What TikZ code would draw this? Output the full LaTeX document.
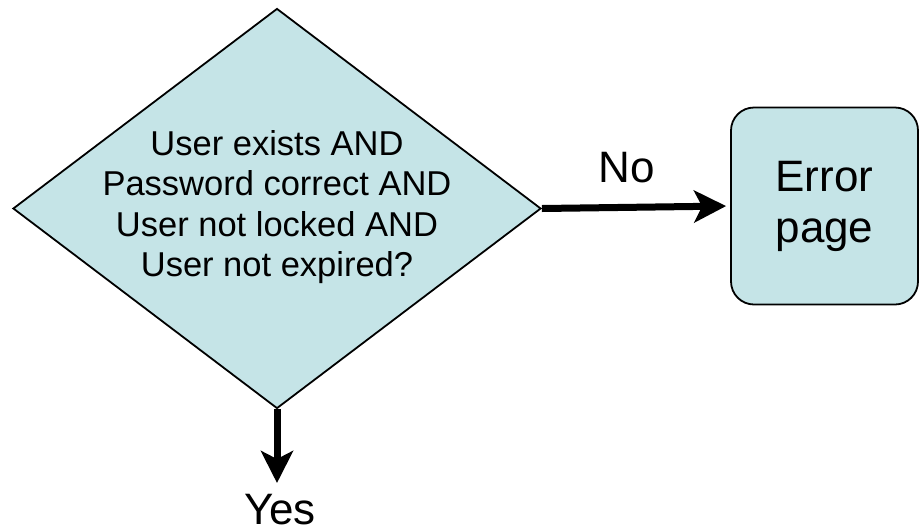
\documentclass[tikz,border=0pt]{standalone}
\usepackage{fontspec}
\setmainfont{Liberation Sans}
\usetikzlibrary{shapes.geometric,arrows.meta}
\definecolor{boxfill}{HTML}{C5E4E7}
\tikzset{
  decision/.style={diamond, draw=black, line width=1.8pt, fill=boxfill, inner sep=0pt, minimum width=528pt, minimum height=400pt},
  endbox/.style={rectangle, rounded corners=23pt, draw=black, line width=1.8pt, fill=boxfill, minimum width=187pt, minimum height=197pt, align=center, font=\fontsize{44}{51}\selectfont},
  flow/.style={line width=7pt, -{Stealth[length=32pt, width=32pt, inset=8pt]}},
  lbl/.style={font=\fontsize{44}{51}\selectfont, inner sep=0pt},
  qtext/.style={align=center, font=\fontsize{34.5}{40.5}\selectfont, inner sep=0pt}
}
\begin{document}
\begin{tikzpicture}[x=1pt,y=-1pt]
\useasboundingbox (0,0) rectangle (920,531);
\node[decision] (q) at (277,208.5) {};
\node[qtext] (qt) at (277,207) {User exists AND\\Password correct AND\\User not locked AND\\User not expired?};
\node[endbox] (err) at (824.5,206) {Error\\page};
\coordinate (yesend) at (277,483);
\draw[flow, shorten >=4pt] (q.east) -- (err.west);
\draw[flow] (q.south) -- (yesend);
\node[lbl] (no) at (627,168) {No};
\node[lbl] (yes) at (280,510) {Yes};
\end{tikzpicture}
\end{document}
